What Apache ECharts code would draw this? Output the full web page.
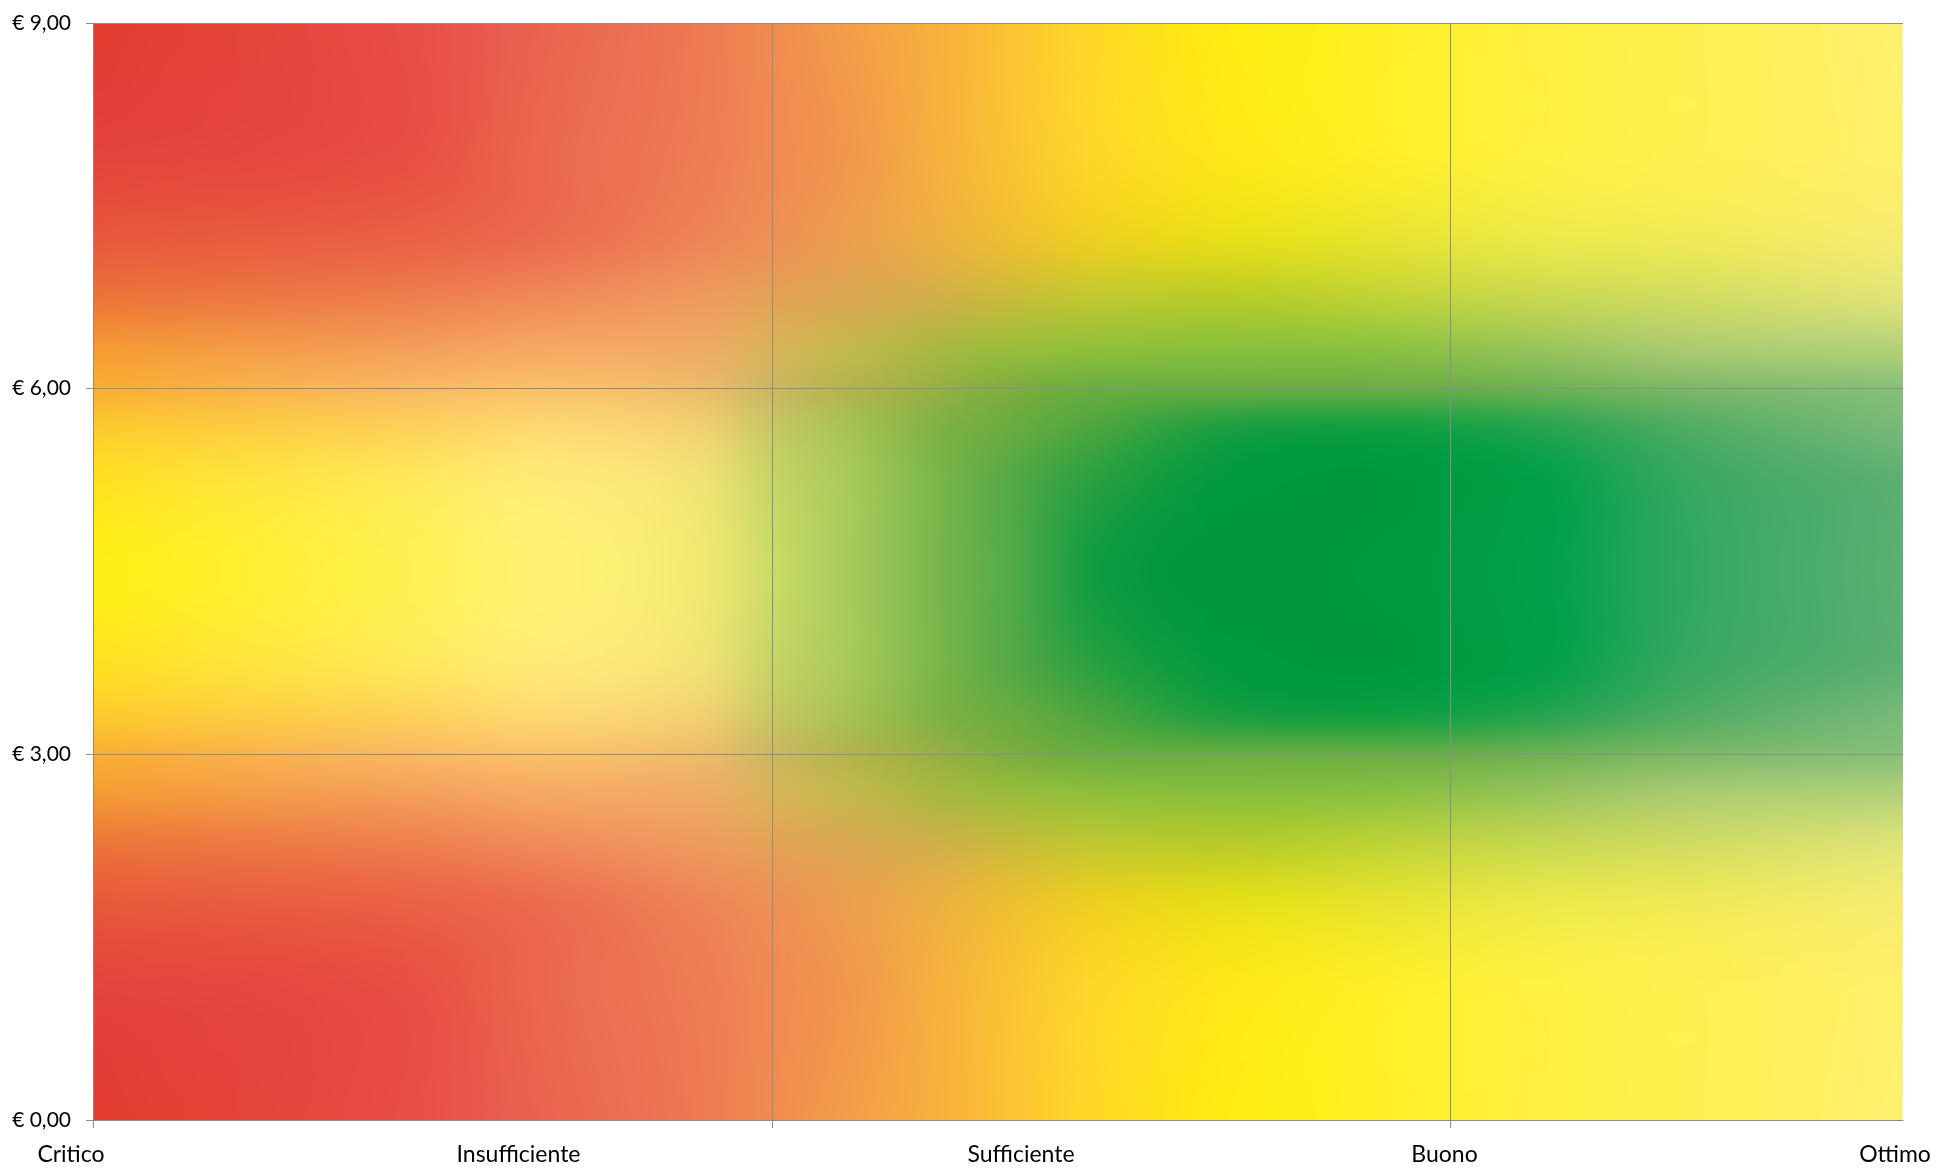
<!DOCTYPE html>
<html>
<head>
<meta charset="utf-8">
<script src="https://cdn.jsdelivr.net/npm/echarts@6/dist/echarts.min.js"></script>
<style>
  html, body { margin: 0; padding: 0; background: #fff; }
  #chart { width: 1936px; height: 1169px; }
</style>
</head>
<body>
<div id="chart"></div>
<script>
// valutazioni sull'asse orizzontale e loro posizione sulla scala 0..8
const categories = ["Critico", "Insufficiente", "Sufficiente", "Buono", "Ottimo"];
const categoryValues = [0, 2, 4, 6, 8];
const xGridValues = [0, 3, 6];
const xMin = 0;
const xMax = 8;
// prezzo (euro) sull'asse verticale
const yMin = 0;
const yMax = 9;
const yStep = 3;

// sfondo sfumato: colonne (frazione di larghezza), righe (distanza da 4,50 €)
const bgCols = [0, 0.17, 0.25, 0.336, 0.375, 0.423, 0.466, 0.509, 0.555, 0.63, 0.72, 0.8, 0.88, 1];
const bgRows = [0, 0.75, 1.18, 1.5, 1.81, 2.25, 2.75, 3.5, 4.5];
const bgColors = [
  ["#ffef12", "#fff050", "#fff272", "#f0e870", "#cadb65", "#a2c85a", "#78b64c", "#50aa48", "#109c40", "#00963e", "#009a40", "#00a04a", "#30a860", "#5cb072"],
  ["#ffe020", "#fee858", "#ffea76", "#f0e272", "#c8d466", "#a4c858", "#7ab64a", "#54a846", "#28a040", "#009a3e", "#00983e", "#02a048", "#36a860", "#5eb072"],
  ["#fdca2c", "#fdd058", "#fdd870", "#f0d070", "#c8c862", "#a4c052", "#80b244", "#68ac40", "#4aa63e", "#1c9e40", "#12a040", "#26a44e", "#50ac62", "#78ba78"],
  ["#f9ae30", "#f9b860", "#f9c068", "#ecbc68", "#ccb860", "#b0b44c", "#98b044", "#7cae3e", "#6aae3e", "#66ae40", "#66ae44", "#6cb252", "#7cb866", "#88c078"],
  ["#f59c33", "#f4a058", "#f6aa62", "#eeac64", "#d8b458", "#c0b84a", "#a8b840", "#98bc3c", "#8ebe3c", "#86be3c", "#8ac042", "#96c35a", "#a8ca70", "#b0d078"],
  ["#ec7438", "#ee7e4c", "#f08a58", "#ee9a5e", "#e4a255", "#d8a850", "#d0b048", "#c8bc38", "#c0c830", "#b8cc28", "#c0d438", "#c8d850", "#d0dc60", "#e0e478"],
  ["#e8583a", "#ea6044", "#ec6c4e", "#ee8456", "#ee9055", "#eca04c", "#ecb040", "#eec030", "#eed020", "#e8e018", "#e8e430", "#ecea48", "#f0ea55", "#f6ec70"],
  ["#e3423a", "#e84e42", "#eb684e", "#ee7c54", "#f08a52", "#f29a4a", "#f6b03e", "#fac432", "#fdd828", "#ffe818", "#fff028", "#fff040", "#fff050", "#fff06c"],
  ["#e33c30", "#e84e42", "#ea6450", "#ee7a52", "#f08c50", "#f4a046", "#f8b03c", "#fcc432", "#ffd824", "#ffec10", "#fff028", "#fff040", "#fff050", "#fff070"]
];

// spostamento orizzontale delle etichette (px), come nell'originale
const labelShift = [-22, -27, 23, -6, -8];

const lineColor = "#8c8c8c";
const font = "Lato, 'Noto Sans', sans-serif";

const chart = echarts.init(document.getElementById("chart"));

const rich = {};
categories.forEach((c, i) => {
  const s = labelShift[i];
  rich["l" + i] = {
    fontSize: 23,
    fontFamily: font,
    color: "#000",
    padding: s < 0 ? [0, -2 * s, 0, 0] : [0, 0, 0, 2 * s]
  };
});

chart.setOption({
  animation: false,
  grid: { left: 93, top: 23, right: 33, bottom: 49 },
  xAxis: {
    type: "value",
    min: xMin,
    max: xMax,
    interval: 3,
    axisLine: { show: true, lineStyle: { color: lineColor, width: 1 } },
    axisTick: { show: true, length: 8, customValues: xGridValues, lineStyle: { color: lineColor } },
    splitLine: { show: true, lineStyle: { color: [lineColor, lineColor, lineColor, "transparent"], width: 1 } },
    axisLabel: {
      customValues: categoryValues,
      margin: 23,
      formatter: function (v) {
        const i = categoryValues.indexOf(v);
        return i < 0 ? "" : "{l" + i + "|" + categories[i] + "}";
      },
      rich: rich
    }
  },
  yAxis: {
    type: "value",
    min: yMin,
    max: yMax,
    interval: yStep,
    axisLine: { show: true, lineStyle: { color: lineColor, width: 1 } },
    axisTick: { show: true, length: 7, lineStyle: { color: lineColor } },
    splitLine: { show: true, lineStyle: { color: lineColor, width: 1 } },
    axisLabel: {
      margin: 22,
      fontSize: 21,
      fontFamily: font,
      color: "#000",
      formatter: v => "€ " + v.toFixed(2).replace(".", ",")
    }
  },
  series: []
});

// interpolazione cubica (Hermite) su nodi non uniformi
function hermite(ts, ps, t, flatStart) {
  const n = ts.length;
  if (t <= ts[0]) return ps[0];
  if (t >= ts[n - 1]) return ps[n - 1];
  let i = 0;
  while (t > ts[i + 1]) i++;
  const tan = k => {
    if (k === 0) return flatStart ? 0 : (ps[1] - ps[0]) / (ts[1] - ts[0]);
    if (k === n - 1) return (ps[n - 1] - ps[n - 2]) / (ts[n - 1] - ts[n - 2]);
    return (ps[k + 1] - ps[k - 1]) / (ts[k + 1] - ts[k - 1]);
  };
  const h = ts[i + 1] - ts[i];
  const s = (t - ts[i]) / h, s2 = s * s, s3 = s2 * s;
  return (2 * s3 - 3 * s2 + 1) * ps[i] + (s3 - 2 * s2 + s) * h * tan(i) +
    (-2 * s3 + 3 * s2) * ps[i + 1] + (s3 - s2) * h * tan(i + 1);
}

function hexRgb(h) {
  return [parseInt(h.slice(1, 3), 16), parseInt(h.slice(3, 5), 16), parseInt(h.slice(5, 7), 16)];
}

function drawBackground() {
  const p0 = chart.convertToPixel({ gridIndex: 0 }, [xMin, yMax]);
  const p1 = chart.convertToPixel({ gridIndex: 0 }, [xMax, yMin]);
  const W = Math.round(p1[0] - p0[0]), H = Math.round(p1[1] - p0[1]);
  const cv = document.createElement("canvas");
  cv.width = W; cv.height = H;
  const ctx = cv.getContext("2d");
  const img = ctx.createImageData(W, H);
  const R = bgRows.length;
  const rgb = bgColors.map(r => r.map(hexRgb));

  // per colonna: colore di ogni riga
  const colX = new Array(W);
  for (let x = 0; x < W; x++) {
    const u = (x + 0.5) / W;
    const arr = new Float32Array(R * 3);
    for (let r = 0; r < R; r++) {
      for (let c = 0; c < 3; c++) {
        arr[r * 3 + c] = hermite(bgCols, rgb[r].map(p => p[c]), u, false);
      }
    }
    colX[x] = arr;
  }
  // per riga di pixel: pesi dei nodi verticali
  const mid = (yMax + yMin) / 2;
  for (let y = 0; y < H; y++) {
    const val = yMax - (y + 0.5) / H * (yMax - yMin);
    const dv = Math.abs(val - mid);
    const w = [];
    for (let r = 0; r < R; r++) {
      const e = bgRows.map((_, k) => (k === r ? 1 : 0));
      w.push(hermite(bgRows, e, dv, true));
    }
    for (let x = 0; x < W; x++) {
      const a = colX[x];
      let cr = 0, cg = 0, cb = 0;
      for (let r = 0; r < R; r++) {
        cr += w[r] * a[r * 3];
        cg += w[r] * a[r * 3 + 1];
        cb += w[r] * a[r * 3 + 2];
      }
      const o = (y * W + x) * 4;
      img.data[o] = Math.max(0, Math.min(255, cr));
      img.data[o + 1] = Math.max(0, Math.min(255, cg));
      img.data[o + 2] = Math.max(0, Math.min(255, cb));
      img.data[o + 3] = 255;
    }
  }
  ctx.putImageData(img, 0, 0);

  chart.setOption({
    graphic: [{
      type: "image",
      silent: true,
      z: -10,
      x: p0[0],
      y: p0[1],
      style: { image: cv, width: W, height: H }
    }]
  });
}

drawBackground();
</script>
</body>
</html>
